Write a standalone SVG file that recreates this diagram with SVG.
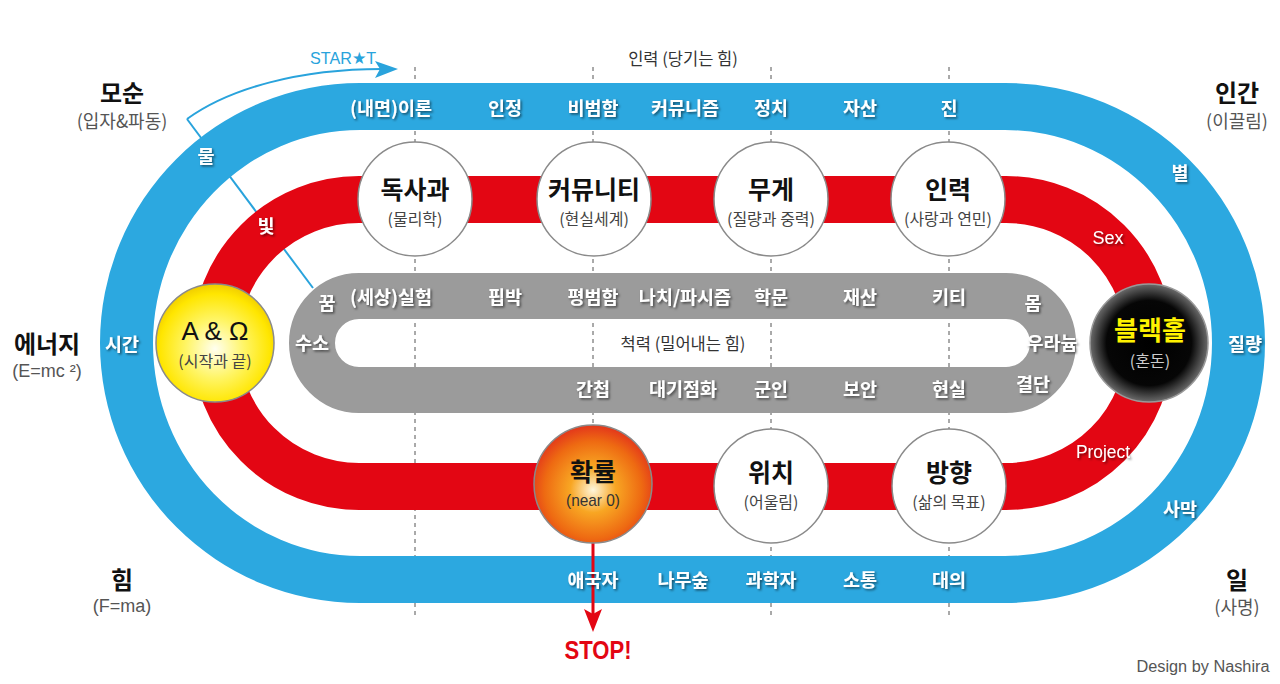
<svg xmlns="http://www.w3.org/2000/svg" width="1280" height="684" viewBox="0 0 1280 684">
<defs>
<style>
text{font-family:"Noto Sans CJK KR","Noto Sans",sans-serif;text-anchor:middle;dominant-baseline:central}
.bl{font-size:18.5px;font-weight:700;fill:#fff;filter:url(#sh)}
.lat{font-family:"Liberation Sans",Arial,sans-serif;font-size:18px;fill:#fff;filter:url(#sh)}
.big{font-size:24px;font-weight:700;fill:#111}
.sub{font-size:18px;fill:#555}
.mid{font-size:16.5px;fill:#333}
.t{font-size:25px;font-weight:700;fill:#111}
.s{font-size:16px;fill:#444}
.guide{stroke:#555;stroke-width:1;stroke-dasharray:4 4;fill:none}
.node{stroke:#8a8a8a;stroke-width:1.5}
</style>
<filter id="sh" x="-20%" y="-40%" width="150%" height="190%">
<feDropShadow dx="1.5" dy="1.5" stdDeviation="1" flood-color="#000" flood-opacity="0.55"/>
</filter>
<radialGradient id="gy" cx="50%" cy="55%" r="55%">
<stop offset="0" stop-color="#fffff0"/>
<stop offset="0.45" stop-color="#fff566"/>
<stop offset="0.85" stop-color="#ffe600"/>
<stop offset="1" stop-color="#f0cc00"/>
</radialGradient>
<radialGradient id="go" cx="50%" cy="55%" r="55%">
<stop offset="0" stop-color="#fff6dc"/>
<stop offset="0.35" stop-color="#f8a623"/>
<stop offset="0.75" stop-color="#ee6a12"/>
<stop offset="1" stop-color="#e3361b"/>
</radialGradient>
<radialGradient id="gk" cx="50%" cy="50%" r="50%">
<stop offset="0" stop-color="#000"/>
<stop offset="0.72" stop-color="#060606"/>
<stop offset="1" stop-color="#6a6a6a"/>
</radialGradient>
</defs>
<rect width="1280" height="684" fill="#fff"/>

<g id="connectors">
<path class="guide" d="M415,67V618M593,67V425M771,67V618M949,67V618"/>
<path d="M187,119L313,288" stroke="#29a3dc" stroke-width="2" fill="none"/>
</g>

<g id="tracks">
<path fill="#2ca8e0" fill-rule="evenodd" d="M360,83H1005A260,260 0 0 1 1005,603H360A260,260 0 0 1 360,83ZM360,130H1005A207,213 0 0 1 1005,556H360A207,213 0 0 1 360,130Z"/>
<path fill="none" stroke="#e30613" stroke-width="47" d="M359,199.5H1006A143.5,143.5 0 0 1 1006,486.5H359A143.5,143.5 0 0 1 359,199.5Z"/>
<path fill="none" stroke="#9b9b9b" stroke-width="46" d="M359,296H1006A47,47 0 0 1 1006,390H359A47,47 0 0 1 359,296Z"/>
</g>

<g id="start-arrow">
<path d="M187,119C230,88 300,69 382,69" stroke="#29a3dc" stroke-width="2" fill="none"/>
<polygon points="375,61 398,69 375,78 380,69" fill="#29a3dc"/>
<text x="343" y="58" style="font-family:'Liberation Sans',Arial,sans-serif;font-size:17px;fill:#29a3dc" textLength="66" lengthAdjust="spacingAndGlyphs">STAR★T</text>
</g>

<g id="stop-arrow">
<line x1="593" y1="543" x2="593" y2="614" stroke="#e30613" stroke-width="3"/>
<polygon points="584,609 593,614 602,609 593,632" fill="#e30613"/>
<text x="598" y="650" style="font-family:'Liberation Sans',Arial,sans-serif;font-size:26px;font-weight:700;fill:#e30613" textLength="67" lengthAdjust="spacingAndGlyphs">STOP!</text>
</g>

<g id="corner-labels">
<text class="big" x="122" y="91">모순</text>
<text class="sub" x="122" y="120">(입자&amp;파동)</text>
<text class="big" x="47" y="342">에너지</text>
<text class="sub" x="47" y="371" style="font-family:'Liberation Sans',Arial,sans-serif">(E=mc ²)</text>
<text class="big" x="122" y="578">힘</text>
<text class="sub" x="122" y="606" style="font-family:'Liberation Sans',Arial,sans-serif">(F=ma)</text>
<text class="big" x="1237" y="91">인간</text>
<text class="sub" x="1237" y="120">(이끌림)</text>
<text class="big" x="1237" y="578">일</text>
<text class="sub" x="1237" y="606">(사명)</text>
<text class="mid" x="683" y="58">인력 (당기는 힘)</text>
<text class="mid" x="683" y="343">척력 (밀어내는 힘)</text>
<text x="1203" y="666" style="font-family:'Liberation Sans',Arial,sans-serif;font-size:16px;fill:#555" textLength="133" lengthAdjust="spacingAndGlyphs">Design by Nashira</text>
</g>

<g id="blue-labels">
<text class="bl" x="391" y="107">(내면)이론</text>
<text class="bl" x="505" y="107">인정</text>
<text class="bl" x="593" y="107">비범함</text>
<text class="bl" x="685" y="107">커뮤니즘</text>
<text class="bl" x="771" y="107">정치</text>
<text class="bl" x="860" y="107">자산</text>
<text class="bl" x="949" y="107">진</text>
<text class="bl" x="206" y="155">물</text>
<text class="bl" x="122" y="343">시간</text>
<text class="bl" x="1180" y="172">별</text>
<text class="bl" x="1245" y="343">질량</text>
<text class="bl" x="1180" y="508">사막</text>
<text class="bl" x="593" y="579">애국자</text>
<text class="bl" x="683" y="579">나무숲</text>
<text class="bl" x="771" y="579">과학자</text>
<text class="bl" x="860" y="579">소통</text>
<text class="bl" x="949" y="579">대의</text>
</g>

<g id="red-labels">
<text class="bl" x="266" y="225">빛</text>
<text class="lat" x="1108" y="238">Sex</text>
<text class="lat" x="1103" y="452" textLength="54" lengthAdjust="spacingAndGlyphs">Project</text>
</g>

<g id="gray-labels">
<text class="bl" x="391" y="296">(세상)실험</text>
<text class="bl" x="505" y="296">핍박</text>
<text class="bl" x="593" y="296">평범함</text>
<text class="bl" x="685" y="296">나치/파시즘</text>
<text class="bl" x="771" y="296">학문</text>
<text class="bl" x="860" y="296">재산</text>
<text class="bl" x="949" y="296">키티</text>
<text class="bl" x="327" y="302">꿈</text>
<text class="bl" x="312" y="342">수소</text>
<text class="bl" x="1033" y="302">몸</text>
<text class="bl" x="1052" y="342">우라늄</text>
<text class="bl" x="1033" y="383">결단</text>
<text class="bl" x="593" y="388">간첩</text>
<text class="bl" x="683" y="388">대기점화</text>
<text class="bl" x="771" y="388">군인</text>
<text class="bl" x="860" y="388">보안</text>
<text class="bl" x="949" y="388">현실</text>
</g>

<g id="node-doksagwa">
<circle class="node" cx="415" cy="199" r="57" fill="#fff"/>
<text class="t" x="415" y="188">독사과</text>
<text class="s" x="415" y="218">(물리학)</text>
</g>
<g id="node-community">
<circle class="node" cx="594" cy="199" r="57" fill="#fff"/>
<text class="t" x="594" y="188">커뮤니티</text>
<text class="s" x="594" y="218">(현실세계)</text>
</g>
<g id="node-muge">
<circle class="node" cx="771" cy="199" r="57" fill="#fff"/>
<text class="t" x="771" y="188">무게</text>
<text class="s" x="771" y="218">(질량과 중력)</text>
</g>
<g id="node-inryeok">
<circle class="node" cx="948" cy="199" r="57" fill="#fff"/>
<text class="t" x="948" y="188">인력</text>
<text class="s" x="948" y="218">(사랑과 연민)</text>
</g>
<g id="node-alpha-omega">
<circle class="node" cx="215" cy="343" r="59" fill="url(#gy)"/>
<text x="215" y="331" style="font-family:'Liberation Sans',Arial,sans-serif;font-size:26px;fill:#111">A &amp; Ω</text>
<text class="s" x="215" y="360">(시작과 끝)</text>
</g>
<g id="node-blackhole">
<circle cx="1149" cy="343" r="59" fill="url(#gk)" stroke="#999" stroke-width="1.5"/>
<text class="t" x="1150" y="328" style="fill:#fff200;font-size:26px">블랙홀</text>
<text class="s" x="1150" y="360" style="fill:#ccc">(혼돈)</text>
</g>
<g id="node-hwakryul">
<circle class="node" cx="593" cy="484" r="59" fill="url(#go)"/>
<text class="t" x="593" y="470">확률</text>
<text x="593" y="500" style="font-family:'Liberation Sans',Arial,sans-serif;font-size:17px;fill:#333" textLength="54" lengthAdjust="spacingAndGlyphs">(near 0)</text>
</g>
<g id="node-wichi">
<circle class="node" cx="771" cy="486" r="57" fill="#fff"/>
<text class="t" x="771" y="471">위치</text>
<text class="s" x="771" y="501">(어울림)</text>
</g>
<g id="node-banghyang">
<circle class="node" cx="949" cy="486" r="57" fill="#fff"/>
<text class="t" x="949" y="471">방향</text>
<text class="s" x="949" y="501">(삶의 목표)</text>
</g>
</svg>
